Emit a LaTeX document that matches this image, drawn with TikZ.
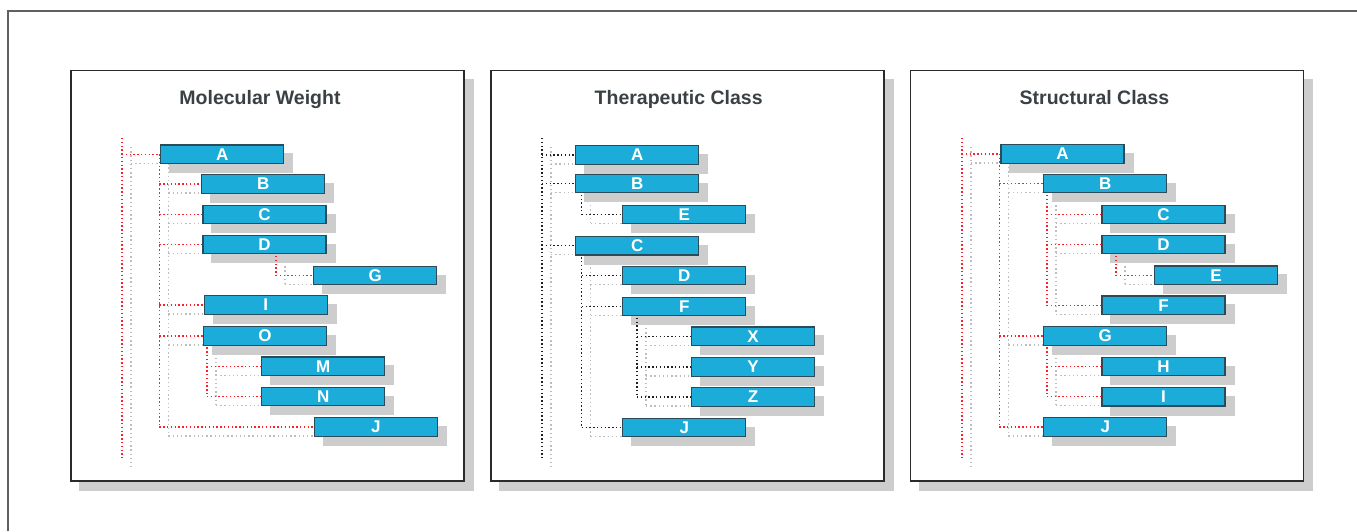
\documentclass[tikz,border=0pt]{standalone}
\usepackage{fontspec}
\setmainfont{Liberation Sans}
\usetikzlibrary{positioning,calc}

\definecolor{boxblue}{HTML}{1CACDA}
\definecolor{boxline}{HTML}{2B4B58}
\definecolor{shadegray}{HTML}{CDCDCD}
\definecolor{dotgray}{HTML}{BDBDBD}
\definecolor{linkred}{HTML}{FF1F26}
\definecolor{linkblack}{HTML}{202020}
\definecolor{titlegray}{HTML}{3A4144}
\definecolor{panelline}{HTML}{2A2A2A}
\definecolor{framegray}{HTML}{606060}

\pgfdeclarelayer{back}
\pgfdeclarelayer{shade}
\pgfdeclarelayer{lines}
\pgfsetlayers{back,shade,lines,main}

\begin{document}
\begin{tikzpicture}[
    x=1pt, y=-1pt,
    box/.style={draw=boxline, fill=boxblue, line width=1.1pt, minimum width=123pt,
        minimum height=18.5pt, inner sep=0pt, text=white,
        font=\fontsize{17}{17}\selectfont\bfseries},
    panel/.style={draw=panelline, fill=white, line width=1.4pt, minimum width=393pt,
        minimum height=410.5pt, inner sep=0pt},
    heading/.style={anchor=base, text=titlegray, font=\fontsize{19.5}{23}\selectfont\bfseries},
    link/.style={line width=1.4pt, dash pattern=on 1.4pt off 2.4pt},
    shadelink/.style={draw=dotgray, line width=1.4pt, dash pattern=on 1.4pt off 2.8pt},
    shade/.style={fill=shadegray}
]
    \useasboundingbox (0,0) rectangle (1357,531);
    \draw[framegray, line width=1.3pt] (8,531) -- (8,11) -- (1357,11);

    % Panels
    \begin{pgfonlayer}{back}
        \node[panel] (mwPanel) at (267.5,275.75) {};
        \node[panel] (tcPanel) at (687.3,275.75) {};
        \node[panel] (scPanel) at (1106.8,275.75) {};
        \foreach \n in {mwPanel,tcPanel,scPanel}
            \fill[shade] ([shift={(9,9)}]\n.north west) rectangle ([shift={(9,9)}]\n.south east);
        \node[panel] at (mwPanel) {};
        \node[panel] at (tcPanel) {};
        \node[panel] at (scPanel) {};
    \end{pgfonlayer}

    \node[heading] (mwTitle) at (260,104.3) {Molecular Weight};
    \node[heading] (tcTitle) at (678.7,104.3) {Therapeutic Class};
    \node[heading] (scTitle) at (1094.5,104.3) {Structural Class};

    % Molecular Weight
    \node[box] (mwA) at (222.3,154.2) {A};
    \node[box] (mwB) at (263.3,183.8) {B};
    \node[box] (mwC) at (264.5,214.5) {C};
    \node[box] (mwD) at (264.5,244.5) {D};
    \node[box] (mwG) at (375.3,275.3) {G};
    \node[box] (mwI) at (265.8,305) {I};
    \node[box] (mwO) at (265,336) {O};
    \node[box] (mwM) at (323.3,366.2) {M};
    \node[box] (mwN) at (323.3,396.5) {N};
    \node[box] (mwJ) at (375.8,426.8) {J};
    \coordinate (mwTop) at (122,138);
    \coordinate (mwBot) at (122,458);
    \coordinate (mwAk) at (mwA -| 159.3,0);
    \coordinate (mwDk) at (mwD -| 276,0);
    \coordinate (mwOk) at (mwO -| 207,0);

    % Therapeutic Class
    \node[box] (tcA) at (637.3,155) {A};
    \node[box] (tcB) at (637.3,183.4) {B};
    \node[box] (tcE) at (684.3,214.5) {E};
    \node[box] (tcC) at (637.3,245.7) {C};
    \node[box] (tcD) at (684.3,275.5) {D};
    \node[box] (tcF) at (684.3,306.3) {F};
    \node[box] (tcX) at (753,336.2) {X};
    \node[box] (tcY) at (753,366.8) {Y};
    \node[box] (tcZ) at (753,397) {Z};
    \node[box] (tcJ) at (684.3,427.5) {J};
    \coordinate (tcTop) at (542,138);
    \coordinate (tcBot) at (542,458);
    \coordinate (tcBk) at (tcB -| 581.7,0);
    \coordinate (tcCk) at (tcC -| 581.7,0);
    \coordinate (tcFk) at (tcF -| 637,0);

    % Structural Class
    \node[box] (scA) at (1062.5,153.8) {A};
    \node[box] (scB) at (1105.2,183.5) {B};
    \node[box] (scC) at (1163.5,214.5) {C};
    \node[box] (scD) at (1163.5,244.5) {D};
    \node[box] (scE) at (1216,275.2) {E};
    \node[box] (scF) at (1163.5,305.2) {F};
    \node[box] (scG) at (1105.3,336) {G};
    \node[box] (scH) at (1163.5,366.3) {H};
    \node[box] (scI) at (1163.5,396.7) {I};
    \node[box] (scJ) at (1105.3,427) {J};
    \coordinate (scTop) at (962,138);
    \coordinate (scBot) at (962,458);
    \coordinate (scAk) at (scA -| 999.3,0);
    \coordinate (scBk) at (scB -| 1047,0);
    \coordinate (scDk) at (scD -| 1116,0);
    \coordinate (scGk) at (scG -| 1047,0);

    % Vertical lines (top to last child)
    \foreach \p/\c/\col in {mwTop/mwBot/linkred, mwAk/mwJ/linkred, mwDk/mwG/linkred,
            mwOk/mwN/linkred, tcTop/tcBot/linkblack, tcBk/tcE/linkblack,
            tcCk/tcJ/linkblack, tcFk/tcZ/linkblack, scTop/scBot/linkred,
            scAk/scJ/linkred, scBk/scF/linkred, scDk/scE/linkred, scGk/scI/linkred} {
        \begin{pgfonlayer}{shade}
            \draw[shadelink] ($(\p)+(9,9)$) -- ($(\p |- \c)+(9,9)$);
        \end{pgfonlayer}
        \begin{pgfonlayer}{lines}
            \draw[link, draw=\col] (\p) -- (\p |- \c);
        \end{pgfonlayer}
    }

    % Branches
    \foreach \p/\c/\col in {mwTop/mwA/linkred, mwAk/mwB/linkred, mwAk/mwC/linkred,
            mwAk/mwD/linkred, mwAk/mwI/linkred, mwAk/mwO/linkred, mwAk/mwJ/linkred,
            mwDk/mwG/linkred, mwOk/mwM/linkred, mwOk/mwN/linkred,
            tcTop/tcA/linkblack, tcTop/tcB/linkblack, tcTop/tcC/linkblack,
            tcBk/tcE/linkblack, tcCk/tcD/linkblack, tcCk/tcF/linkblack, tcCk/tcJ/linkblack,
            tcFk/tcX/linkblack, tcFk/tcY/linkblack, tcFk/tcZ/linkblack,
            scTop/scA/linkred, scAk/scB/linkred, scAk/scG/linkred, scAk/scJ/linkred,
            scBk/scC/linkred, scBk/scD/linkred, scBk/scF/linkred, scDk/scE/linkred,
            scGk/scH/linkred, scGk/scI/linkred} {
        \begin{pgfonlayer}{shade}
            \draw[shadelink] ($(\p |- \c)+(9,9)$) -- ($(\c.west)+(9,9)$);
        \end{pgfonlayer}
        \begin{pgfonlayer}{lines}
            \draw[link, draw=\col] (\p |- \c) -- (\c.west);
        \end{pgfonlayer}
    }

    % Box shadows
    \begin{pgfonlayer}{shade}
        \foreach \n in {mwA,mwB,mwC,mwD,mwG,mwI,mwO,mwM,mwN,mwJ,
                tcA,tcB,tcE,tcC,tcD,tcF,tcX,tcY,tcZ,tcJ,
                scA,scB,scC,scD,scE,scF,scG,scH,scI,scJ}
            \fill[shade] ([shift={(9,9)}]\n.north west) rectangle ([shift={(9,9)}]\n.south east);
    \end{pgfonlayer}
\end{tikzpicture}
\end{document}
